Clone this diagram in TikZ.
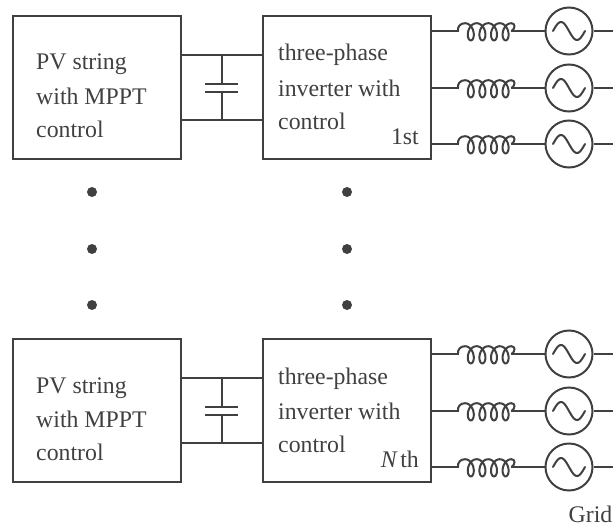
\documentclass[tikz,border=0pt]{standalone}
\usepackage{fontspec}
\setmainfont{Liberation Serif}
\definecolor{ink}{HTML}{404040}
\newcommand{\coilat}[2]{%
  \draw[wire] ({#1-7},{#2}) .. controls ({#1-7.5},{#2-4}) and ({#1-5},{#2-7.8}) .. ({#1},{#2-7.8})
    -- plot[domain=0:4,samples=120,variable=\u,smooth]
    ({#1+11.6*\u+5.6*sin(360*\u)},{#2+0.8-8.6*cos(360*\u)})
    .. controls ({#1+50},{#2-7.8}) and ({#1+51},{#2-3}) .. ({#1+46.5},{#2});}
\tikzset{
  wire/.style={draw=ink,line width=2pt},
  unitbox/.style={draw=ink,line width=2pt,minimum width=168pt,minimum height=143pt,inner sep=0pt},
  lbl/.style={anchor=base west,inner sep=0pt,text=ink,font=\fontsize{23.8}{25}\selectfont},
  source/.style={circle,draw=ink,line width=2pt,minimum size=47pt,inner sep=0pt},
  bigdot/.style={circle,fill=ink,minimum size=10pt,inner sep=0pt},
}
\newcommand{\sinewave}[1]{%
  \draw[wire,line cap=round,domain=-16:16,samples=50,variable=\t,shift={(#1)}]
    plot ({\t},{9*sin(180*\t/16)});}
\newcommand{\unit}[3]{%
  \node[unitbox] (#1pv) at (96.5,{87.5+#2}) {};
  \node[unitbox] (#1inv) at (347,{87.5+#2}) {};
  \node[lbl] (#1a1) at (36,{70+#2}) {PV string};
  \node[lbl] (#1a2) at (36,{104+#2}) {with MPPT};
  \node[lbl] (#1a3) at (36,{137+#2}) {control};
  \node[lbl] (#1b1) at (278,{61+#2}) {three-phase};
  \node[lbl] (#1b2) at (278,{96+#2}) {inverter with};
  \node[lbl] (#1b3) at (278,{129+#2}) {control};
  \node[lbl,anchor=base east] (#1tag) at (419,{144+#2}) {#3};
  \coordinate (#1pt) at (181,{55+#2}); \coordinate (#1it) at (263,{55+#2});
  \coordinate (#1pb) at (181,{120+#2}); \coordinate (#1ib) at (263,{120+#2});
  \coordinate (#1jt) at (221.5,{55+#2}); \coordinate (#1jb) at (221.5,{120+#2});
  \coordinate (#1ct) at (221.5,{83.5+#2}); \coordinate (#1cb) at (221.5,{92+#2});
  \draw[wire] (#1pt) -- (#1it);
  \draw[wire] (#1pb) -- (#1ib);
  \draw[wire] (#1jt) -- (#1ct);
  \draw[wire] (#1jb) -- (#1cb);
  \draw[wire] ([xshift=-16.5pt]#1ct) -- ([xshift=16.5pt]#1ct);
  \draw[wire] ([xshift=-16.5pt]#1cb) -- ([xshift=16.5pt]#1cb);
  \foreach \n/\yy in {1/31,2/88,3/144}{
    \pgfmathsetmacro{\yv}{\yy+#2}
    \coordinate (#1o\n) at (431,\yv);
    \coordinate (#1l\n) at (459,\yv);
    \coordinate (#1r\n) at (511,\yv);
    \node[source] (#1s\n) at (569,\yv) {};
    \coordinate (#1e\n) at (613,\yv);
    \draw[wire] (#1o\n) -- (#1l\n);
    \coilat{465}{\yv}
    \draw[wire] (#1r\n) -- (#1s\n);
    \draw[wire] (#1s\n) -- (#1e\n);
    \sinewave{#1s\n}
  }
}
\begin{document}
\begin{tikzpicture}[x=1pt,y=-1pt]
\useasboundingbox (0,0) rectangle (613,527);
\unit{u}{0}{1st}
\unit{v}{323}{\textit{N}\kern2.5pt th}
\foreach \x/\c in {92/p,347/q}{
  \foreach \y/\d in {192/a,249/b,305/c}{
    \node[bigdot] (\c\d) at (\x,\y) {};
  }
}
\node[lbl,anchor=base east] (grid) at (612.5,522.5) {Grid};
\end{tikzpicture}
\end{document}
